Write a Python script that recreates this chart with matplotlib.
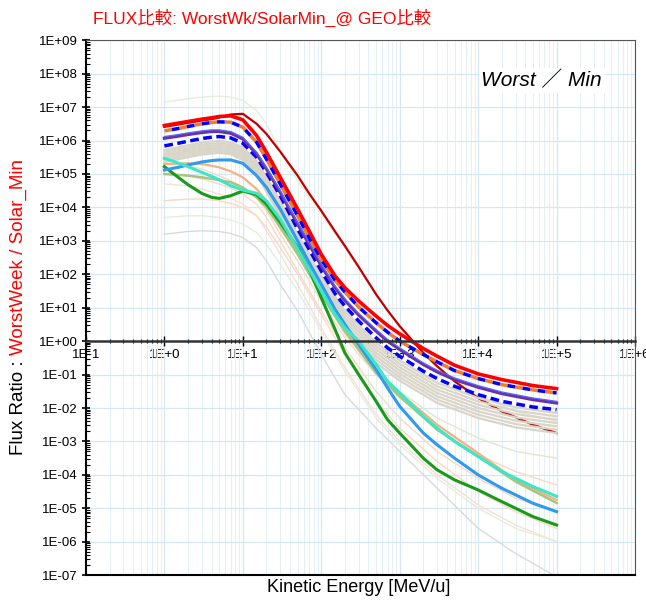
import numpy as np
import matplotlib
matplotlib.use("Agg")
import matplotlib.pyplot as plt
from matplotlib.ticker import LogLocator, FuncFormatter, NullFormatter

plt.rcParams['font.family'] = ['Liberation Sans', 'Noto Sans CJK JP']

# energy grid [MeV/u] for the main curves
energy = [1, 1.5, 2, 3, 4, 5, 7, 10, 15, 20, 30, 50, 70, 100, 150, 200, 300,
          500, 700, 1000, 2000, 3000, 5000, 1e4, 2e4, 5e4, 1e5]
# coarser grid for the thin background curves
energy_c = [1, 2, 3, 5, 7, 10, 15, 20, 30, 50, 100, 200, 500, 1000, 3000, 1e4, 3e4, 1e5]

# flux ratios, stored as log10 exponents
red_exp = [6.45, 6.52, 6.57, 6.64, 6.68, 6.72, 6.74, 6.62, 6.15, 5.65, 4.9, 3.95, 3.3,
           2.6, 1.95, 1.6, 1.2, 0.75, 0.47, 0.22, -0.22, -0.45, -0.72, -0.98, -1.15, -1.33, -1.42]
darkred_exp = [6.41, 6.48, 6.53, 6.6, 6.64, 6.69, 6.78, 6.8, 6.5, 6.2, 5.67, 4.95, 4.42,
               3.9, 3.28, 2.85, 2.22, 1.4, 0.92, 0.45, -0.35, -0.75, -1.2, -1.7, -2.1, -2.5, -2.75]
upper_dash_exp = [6.29, 6.36, 6.42, 6.5, 6.54, 6.56, 6.55, 6.4, 5.95, 5.45, 4.7, 3.75, 3.1,
                  2.45, 1.82, 1.47, 1.02, 0.55, 0.27, 0.0, -0.4, -0.62, -0.88, -1.12, -1.3, -1.46, -1.55]
purple_exp = [6.07, 6.13, 6.18, 6.24, 6.27, 6.27, 6.22, 6.05, 5.6, 5.15, 4.45, 3.5, 2.9,
              2.25, 1.6, 1.22, 0.78, 0.3, 0.0, -0.25, -0.7, -0.92, -1.15, -1.38, -1.57, -1.75, -1.85]
thinblue_exp = [6.12, 6.18, 6.23, 6.29, 6.32, 6.32, 6.27, 6.1, 5.65, 5.2, 4.5, 3.55, 2.95,
                2.3, 1.65, 1.27, 0.83, 0.35, 0.05, -0.2, -0.65, -0.87, -1.1, -1.33, -1.52, -1.7, -1.8]
lower_dash_exp = [5.84, 5.92, 5.98, 6.06, 6.1, 6.12, 6.08, 5.92, 5.5, 5.05, 4.35, 3.35, 2.75,
                  2.1, 1.42, 1.05, 0.6, 0.1, -0.2, -0.45, -0.9, -1.12, -1.35, -1.6, -1.8, -1.97, -2.05]
turq_exp = [5.47, 5.33, 5.22, 5.05, 4.93, 4.83, 4.65, 4.52, 4.42, 4.2, 3.65, 2.75, 2.15,
            1.5, 0.8, 0.4, 0.0, -0.7, -1.2, -1.55, -2.25, -2.6, -3.0, -3.45, -3.9, -4.35, -4.64]
ltblue_exp = [5.12, 5.2, 5.27, 5.36, 5.4, 5.42, 5.42, 5.32, 4.95, 4.6, 3.95, 3.0, 2.35,
              1.7, 0.95, 0.5, -0.1, -0.85, -1.4, -1.95, -2.75, -3.1, -3.5, -4.0, -4.4, -4.85, -5.1]
green_exp = [5.22, 4.9, 4.68, 4.42, 4.3, 4.27, 4.35, 4.49, 4.38, 4.1, 3.55, 2.8, 2.15,
             1.3, 0.35, -0.35, -1.0, -1.8, -2.35, -2.75, -3.5, -3.85, -4.15, -4.45, -4.8, -5.25, -5.5]

olive_exp = [5.0, 4.95, 4.9, 4.82, 4.75, 4.6, 4.3, 4.0, 3.4, 2.6, 1.4, 0.3, -0.95, -1.65,
             -2.65, -3.45, -4.2, -4.84]
peach_exp = [5.3, 5.32, 5.3, 5.2, 5.08, 4.9, 4.55, 4.2, 3.5, 2.7, 1.45, 0.35, -0.85, -1.55,
             -2.5, -3.35, -4.15, -4.75]

# grey bundle of individual weeks
bundle_exp = [
    [5.72, 5.86, 5.94, 5.99, 5.95, 5.8, 5.38, 4.92, 4.2, 3.2, 1.95, 0.9, -0.05, -0.58, -1.25, -1.7, -1.98, -2.15],
    [5.66, 5.8, 5.88, 5.93, 5.89, 5.74, 5.32, 4.85, 4.12, 3.12, 1.86, 0.8, -0.15, -0.68, -1.35, -1.8, -2.08, -2.25],
    [5.6, 5.74, 5.82, 5.87, 5.83, 5.68, 5.25, 4.78, 4.05, 3.04, 1.77, 0.7, -0.25, -0.78, -1.45, -1.9, -2.18, -2.35],
    [5.54, 5.68, 5.76, 5.81, 5.77, 5.62, 5.18, 4.71, 3.97, 2.95, 1.68, 0.6, -0.35, -0.88, -1.55, -2.0, -2.28, -2.45],
    [5.48, 5.62, 5.7, 5.75, 5.71, 5.56, 5.11, 4.63, 3.89, 2.86, 1.59, 0.5, -0.45, -0.98, -1.65, -2.1, -2.38, -2.55],
    [5.42, 5.56, 5.64, 5.69, 5.65, 5.49, 5.04, 4.55, 3.8, 2.77, 1.5, 0.4, -0.55, -1.08, -1.75, -2.2, -2.48, -2.65],
    [5.36, 5.5, 5.58, 5.63, 5.59, 5.42, 4.96, 4.47, 3.72, 2.68, 1.4, 0.3, -0.65, -1.18, -1.85, -2.3, -2.58, -2.75],
]
# faint outliers
faint_exp = [
    [7.15, 7.25, 7.3, 7.33, 7.3, 7.2, 6.9, 6.5, 5.7, 4.8, 3.8, 2.8, 1.4, 0.4, -0.8, -1.6, -2.1, -2.4],
    [5.6, 5.7, 5.75, 5.75, 5.7, 5.55, 5.15, 4.6, 3.8, 2.8, 1.4, 0.2, -0.9, -1.5, -2.3, -2.9, -3.3, -3.5],
    [5.3, 5.25, 5.15, 4.95, 4.8, 4.6, 4.3, 3.9, 3.2, 2.4, 1.2, 0.1, -1.0, -1.7, -2.6, -3.4, -3.9, -4.3],
    [5.0, 4.95, 4.85, 4.7, 4.58, 4.4, 4.1, 3.7, 3.0, 2.1, 0.9, -0.2, -1.5, -2.3, -3.3, -4.1, -4.7, -5.1],
    [4.7, 4.65, 4.55, 4.4, 4.28, 4.1, 3.75, 3.3, 2.6, 1.7, 0.4, -0.8, -2.2, -3.0, -4.0, -4.9, -5.5, -6.0],
    [4.2, 4.25, 4.25, 4.2, 4.12, 4.0, 3.75, 3.4, 2.8, 2.0, 0.8, -0.4, -1.8, -2.6, -3.6, -4.5, -5.1, -5.6],
    [3.7, 3.75, 3.75, 3.7, 3.62, 3.5, 3.25, 2.9, 2.3, 1.5, 0.3, -0.9, -2.3, -3.1, -4.1, -5.0, -5.6, -6.0],
]
faint_colors = ['#E2EFD9', '#DDE8CF', '#F8D9C4', '#F8D9C4', '#F6E0D2', '#F8D9C4', '#E6EDDC']
grey_exp = [3.2, 3.28, 3.3, 3.28, 3.22, 3.1, 2.8, 2.4, 1.7, 0.9, -0.4, -1.6, -2.6, -3.3,
            -4.4, -5.6, -6.35, -7.05]

xtick_vals = [1e-1, 1e0, 1e1, 1e2, 1e3, 1e4, 1e5, 1e6]


def r(v):
    return 10 ** np.array(v)


fig = plt.figure(figsize=(6.46, 6.01), dpi=100)
ax = fig.add_axes([0.133, 0.043, 0.850, 0.890])

# background curves
for vals, c in zip(faint_exp, faint_colors):
    ax.plot(energy_c, r(vals), color=c, lw=1.0, zorder=2)
ax.plot(energy_c, r(grey_exp), color='#DADADA', lw=1.0, zorder=2)
ax.plot(energy, r(darkred_exp), color='#C00000', lw=1.6, zorder=2.5)
for vals in bundle_exp:
    ax.plot(energy_c, r(vals), color='#D9D5C8', lw=1.6, zorder=3)

ax.plot(energy_c, r(peach_exp), color='#F4B183', lw=1.6, zorder=3.5)
ax.plot(energy_c, r(olive_exp), color='#A9C47F', lw=1.8, zorder=3.5)
ax.plot(energy, r(green_exp), color='#1A9A1A', lw=2.2, zorder=4)
ax.plot(energy, r(ltblue_exp), color='#2E9AF0', lw=2.2, zorder=4)
ax.plot(energy, r(turq_exp), color='#3CE6C8', lw=2.2, zorder=4.1)

ax.plot(energy, r(lower_dash_exp), color='#0000FF', lw=2.5, ls=(0, (2.5, 1.3)), zorder=4.2)
ax.plot(energy, r(purple_exp), color='#7030A0', lw=2.3, zorder=4.3)
ax.plot(energy, r(thinblue_exp), color='#4F6BFF', lw=0.9, zorder=4.3)
ax.plot(energy, r(upper_dash_exp), color='#ED7D31', lw=2.5, ls=(0, (2.2, 2.2)), zorder=4.4)
ax.plot(energy, r(upper_dash_exp), color='#0000FF', lw=2.5, ls=(2.2, (2.2, 2.2)), zorder=4.4)
ax.plot(energy, r(red_exp), color='#FF0000', lw=2.6, zorder=5)

ax.set_xscale('log')
ax.set_yscale('log')
ax.set_xlim(1e-1, 1e6)
ax.set_ylim(1e-7, 1e9)

# grid: x major+minor, y major only
ax.grid(True, which='major', axis='both', color='#D5E8F2', lw=0.9, zorder=0)
ax.grid(True, which='minor', axis='x', color='#E3F0F6', lw=0.7, zorder=0)
ax.set_axisbelow(True)

ax.xaxis.set_minor_locator(LogLocator(base=10, subs=np.arange(2, 10), numticks=20))
ax.yaxis.set_major_locator(LogLocator(base=10, numticks=30))
ax.yaxis.set_minor_locator(LogLocator(base=10, subs=np.arange(2, 10), numticks=30))
ax.set_xticks(xtick_vals)
ax.xaxis.set_major_formatter(FuncFormatter(lambda v, p: '1E%+d' % round(np.log10(v))))
ax.yaxis.set_major_formatter(FuncFormatter(lambda v, p: '1E%+03d' % round(np.log10(v))))
ax.xaxis.set_minor_formatter(NullFormatter())
ax.yaxis.set_minor_formatter(NullFormatter())

# x axis runs through ratio = 1
ax.spines['bottom'].set_position(('data', 1.0))
ax.spines['bottom'].set_linewidth(1.8)
ax.spines['bottom'].set_color('#333333')
ax.spines['bottom'].set_zorder(6)
ax.plot([0, 1], [0, 0], transform=ax.transAxes, color='black', lw=1.5, clip_on=False, zorder=6)
ax.spines['left'].set_linewidth(1.5)
for s in ('top', 'right'):
    ax.spines[s].set_linewidth(0.8)
    ax.spines[s].set_color('#555555')

ax.tick_params(axis='x', which='major', direction='inout', length=7, width=1.0, labelsize=9.5, pad=2)
ax.tick_params(axis='x', which='minor', direction='inout', length=3, width=0.8)
ax.tick_params(axis='y', which='major', direction='inout', length=6, width=1.2, labelsize=9.5, pad=3)
ax.tick_params(axis='y', which='minor', direction='in', length=3, width=0.8)

ax.text(0.83, 0.925, 'Worst ／ Min', transform=ax.transAxes, ha='center', va='center',
        fontsize=15, style='italic', zorder=7,
        bbox=dict(facecolor='white', edgecolor='none', pad=2))

fig.text(0.555, 0.022, 'Kinetic Energy [MeV/u]', fontsize=13, ha='center', va='center')

fig.text(0.144, 0.970, 'FLUX比較: WorstWk/SolarMin_@ GEO比較', color='#FF0000', fontsize=12.5,
         ha='left', va='center')

# two-colour y label
renderer = fig.canvas.get_renderer()
t1 = fig.text(0.029, 0.243, 'Flux Ratio : ', rotation=90, fontsize=13.5, ha='center', va='bottom')
bb = t1.get_window_extent(renderer).transformed(fig.transFigure.inverted())
fig.text(0.029, bb.y1, 'WorstWeek / Solar_Min', rotation=90, fontsize=13.5, color='#FF0000',
         ha='center', va='bottom')

fig.savefig('out.png', dpi=100)
